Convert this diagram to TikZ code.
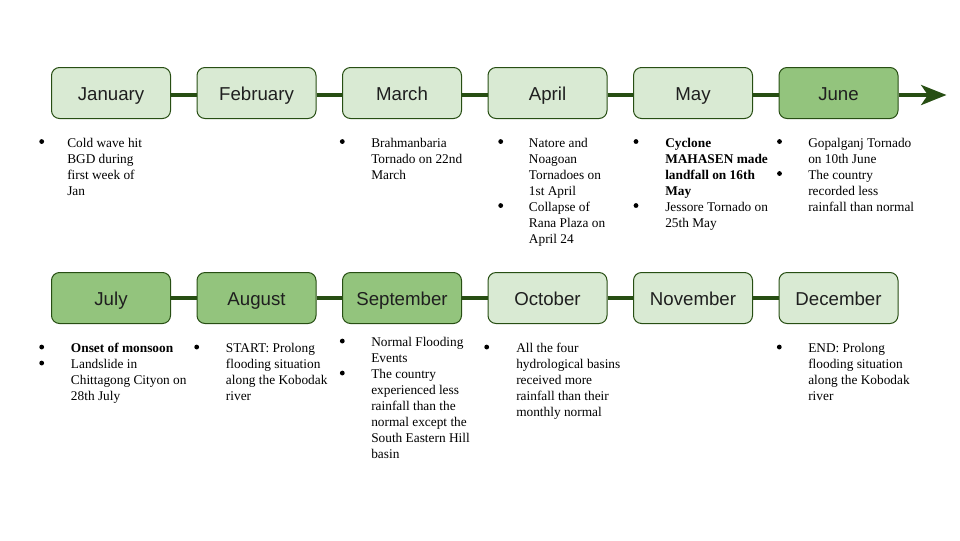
\documentclass[tikz,border=0pt]{standalone}
\usepackage{fontspec}
\setmainfont{Liberation Serif}
\newfontfamily\arialf{Liberation Sans}
\usetikzlibrary{arrows.meta}
\definecolor{lightg}{HTML}{D9EAD3}
\definecolor{darkg}{HTML}{93C47D}
\definecolor{lineg}{HTML}{274E13}
\definecolor{monthtxt}{HTML}{1F1F1F}
\tikzset{
  month/.style={draw=lineg, line width=0.75pt, rounded corners=6pt,
    minimum width=89.25pt, minimum height=38.25pt, inner sep=0pt,
    text height=10.5pt, text depth=0pt,
    font=\arialf\fontsize{14}{16}\selectfont, text=monthtxt},
  lightbox/.style={month, fill=lightg},
  darkbox/.style={month, fill=darkg},
  link/.style={draw=lineg, line width=3pt},
  bul/.style={circle, fill=black, inner sep=0pt, minimum size=3.6pt, yshift=4.1pt},
  evt/.style={anchor=base west, inner sep=0pt, font=\fontsize{10}{12}\selectfont, align=left}
}
\newcommand{\ev}[1]{\parbox[t]{130pt}{\raggedright #1}}
\begin{document}
\begin{tikzpicture}[x=0.75pt,y=-0.75pt]
\useasboundingbox (0,0) rectangle (960,540);
% row 1
\node[lightbox] (jan) at (111,93) {January};
\node[lightbox] (feb) at (256.5,93) {February};
\node[lightbox] (mar) at (402,93) {March};
\node[lightbox] (apr) at (547.5,93) {April};
\node[lightbox] (may) at (693,93) {May};
\node[darkbox]  (jun) at (838.5,93) {June};
% row 2
\node[darkbox]  (jul) at (111,298) {July};
\node[darkbox]  (aug) at (256.5,298) {August};
\node[darkbox]  (sep) at (402,298) {September};
\node[lightbox] (oct) at (547.5,298) {October};
\node[lightbox] (nov) at (693,298) {November};
\node[lightbox] (dec) at (838.5,298) {December};
\coordinate (arrowend) at (946.5,95);
% connectors
\foreach \a/\b in {jan/feb,feb/mar,mar/apr,apr/may,may/jun}
  \draw[link] ([yshift=-1.5pt]\a.east) -- ([yshift=-1.5pt]\b.west);
\draw[link, -{Stealth[length=19pt,width=15pt,inset=5pt]}] ([yshift=-1.5pt]jun.east) -- (arrowend);
\foreach \a/\b in {jul/aug,aug/sep,sep/oct,oct/nov,nov/dec}
  \draw[link] (\a.east) -- (\b.west);
% events row 1
\node[bul] (janb1) at (41.7,147) {};
\node[evt] (jant1) at (67,147) {\ev{Cold wave hit\\BGD during\\first week of\\Jan}};
\node[bul] (marb1) at (342.3,147) {};
\node[evt] (mart1) at (371,147) {\ev{Brahmanbaria\\Tornado on 22nd\\March}};
\node[bul] (aprb1) at (500.7,147) {};
\node[evt] (aprt1) at (528.7,147) {\ev{Natore and\\Noagoan\\Tornadoes on\\1st April}};
\node[bul] (aprb2) at (500.7,211) {};
\node[evt] (aprt2) at (528.7,211) {\ev{Collapse of\\Rana Plaza on\\April 24}};
\node[bul] (mayb1) at (636,147) {};
\node[evt] (mayt1) at (665,147) {\ev{\bfseries Cyclone\\MAHASEN made\\landfall on 16th\\May}};
\node[bul] (mayb2) at (636,211) {};
\node[evt] (mayt2) at (665,211) {\ev{Jessore Tornado on\\25th May}};
\node[bul] (junb1) at (779.5,147) {};
\node[evt] (junt1) at (808,147) {\ev{Gopalganj Tornado\\on 10th June}};
\node[bul] (junb2) at (779.5,179) {};
\node[evt] (junt2) at (808,179) {\ev{The country\\recorded less\\rainfall than normal}};
% events row 2
\node[bul] (julb1) at (41.7,352.5) {};
\node[evt] (jult1) at (70.7,352.5) {\ev{\bfseries Onset of monsoon}};
\node[bul] (julb2) at (41.7,368.5) {};
\node[evt] (jult2) at (70.7,368.5) {\ev{Landslide in\\Chittagong Cityon on\\28th July}};
\node[bul] (augb1) at (196.7,352.5) {};
\node[evt] (augt1) at (225.7,352.5) {\ev{START: Prolong\\flooding situation\\along the Kobodak\\river}};
\node[bul] (sepb1) at (342.3,346.5) {};
\node[evt] (sept1) at (371,346.5) {\ev{Normal Flooding\\Events}};
\node[bul] (sepb2) at (342.3,378.5) {};
\node[evt] (sept2) at (371,378.5) {\ev{The country\\experienced less\\rainfall than the\\normal except the\\South Eastern Hill\\basin}};
\node[bul] (octb1) at (486.7,352.5) {};
\node[evt] (octt1) at (516,352.5) {\ev{All the four\\hydrological basins\\received more\\rainfall than their\\monthly normal}};
\node[bul] (decb1) at (779.3,352.5) {};
\node[evt] (dect1) at (808,352.5) {\ev{END: Prolong\\flooding situation\\along the Kobodak\\river}};
\end{tikzpicture}
\end{document}
